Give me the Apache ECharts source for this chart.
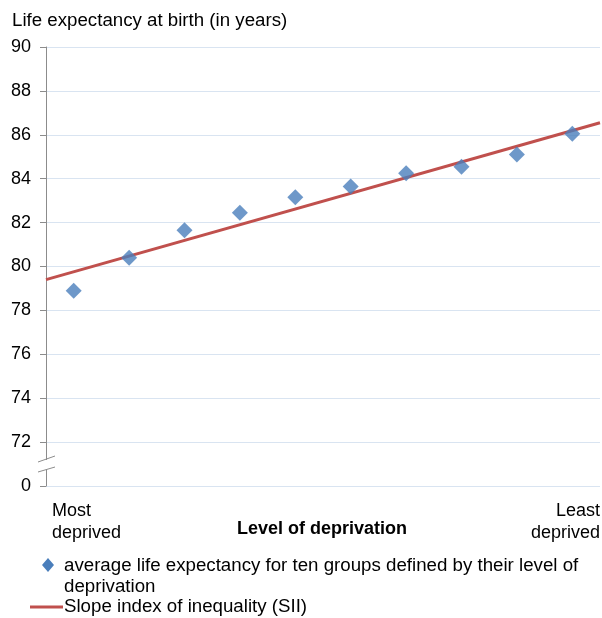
<!DOCTYPE html>
<html>
<head>
<meta charset="utf-8">
<script src="https://cdn.jsdelivr.net/npm/echarts@6/dist/echarts.min.js"></script>
<style>
  html, body { margin: 0; padding: 0; background: #fff; }
  #chart { width: 602px; height: 618px; }
</style>
</head>
<body>
<div id="chart"></div>
<script>
// ten deprivation groups, most deprived -> least deprived
const groups = ['1', '2', '3', '4', '5', '6', '7', '8', '9', '10']
const lifeExpectancy = [78.9, 80.4, 81.65, 82.45, 83.15, 83.65, 84.25, 84.55, 85.1, 86.05]
// SII line, drawn across the full width (0 = left edge, 10 = right edge)
const siiPosition = [0, 10]
const siiValue = [79.4, 86.55]
const yTicks = [70, 72, 74, 76, 78, 80, 82, 84, 86, 88, 90]

const font = 'Liberation Sans, Arial, sans-serif'
const blue = '#4A7EBB'
const red = '#C0504D'

const chart = echarts.init(document.getElementById('chart'))

const option = {
  animation: false,
  textStyle: { fontFamily: font },
  grid: { left: 46, right: 2, top: 47, bottom: 132 },
  xAxis: [
    {
      type: 'category',
      data: groups,
      boundaryGap: true,
      axisLine: { show: false },
      axisTick: { show: false },
      axisLabel: { show: false },
      splitLine: { show: false }
    },
    {
      type: 'value',
      min: 0,
      max: 10,
      show: false
    }
  ],
  yAxis: {
    type: 'value',
    min: yTicks[0],
    max: yTicks[yTicks.length - 1],
    interval: 2,
    axisLine: { show: true, lineStyle: { color: '#8c8c8c', width: 1 } },
    axisTick: { show: true, length: 6, lineStyle: { color: '#8c8c8c' } },
    axisLabel: {
      color: '#000',
      fontSize: 18,
      fontFamily: font,
      margin: 15,
      formatter: v => (v === 70 ? '0' : String(v))
    },
    splitLine: { lineStyle: { color: '#D9E4F1', width: 1 } }
  },
  series: [
    {
      name: 'SII',
      type: 'line',
      xAxisIndex: 1,
      data: siiPosition.map((p, i) => [p, siiValue[i]]),
      symbol: 'none',
      lineStyle: { color: red, width: 3 },
      z: 2
    },
    {
      name: 'average',
      type: 'scatter',
      data: lifeExpectancy,
      symbol: 'diamond',
      symbolSize: [16, 16],
      itemStyle: { color: blue },
      z: 3
    }
  ],
  graphic: [
    { type: 'text', x: 12, y: 11, style: { text: 'Life expectancy at birth (in years)', font: '18.7px ' + font, fill: '#000' } },
    // axis break marks
    { type: 'rect', shape: { x: 42, y: 460, width: 8, height: 9 }, style: { fill: '#fff' }, z: 10 },
    { type: 'line', shape: { x1: 38, y1: 462, x2: 55, y2: 456 }, style: { stroke: '#8c8c8c', lineWidth: 1 }, z: 11 },
    { type: 'line', shape: { x1: 38, y1: 472, x2: 55, y2: 467 }, style: { stroke: '#8c8c8c', lineWidth: 1 }, z: 11 },
    // axis end labels
    { type: 'text', x: 52, y: 500, style: { text: 'Most\ndeprived', font: '18px ' + font, fill: '#000', lineHeight: 22 } },
    { type: 'text', x: 600, y: 500, style: { text: 'Least\ndeprived', font: '18px ' + font, fill: '#000', lineHeight: 22, align: 'right' } },
    { type: 'text', x: 237, y: 520, style: { text: 'Level of deprivation', font: 'bold 18px ' + font, fill: '#000' } },
    // legend
    { type: 'polygon', shape: { points: [[48, 558], [54, 565], [48, 572], [42, 565]] }, style: { fill: blue } },
    { type: 'text', x: 64, y: 555, style: { text: 'average life expectancy for ten groups defined by their level of\ndeprivation', font: '18.7px ' + font, fill: '#000', lineHeight: 21 } },
    { type: 'line', shape: { x1: 30, y1: 607, x2: 63, y2: 607 }, style: { stroke: red, lineWidth: 3 } },
    { type: 'text', x: 64, y: 597, style: { text: 'Slope index of inequality (SII)', font: '18.7px ' + font, fill: '#000' } }
  ]
}

chart.setOption(option)
</script>
</body>
</html>
